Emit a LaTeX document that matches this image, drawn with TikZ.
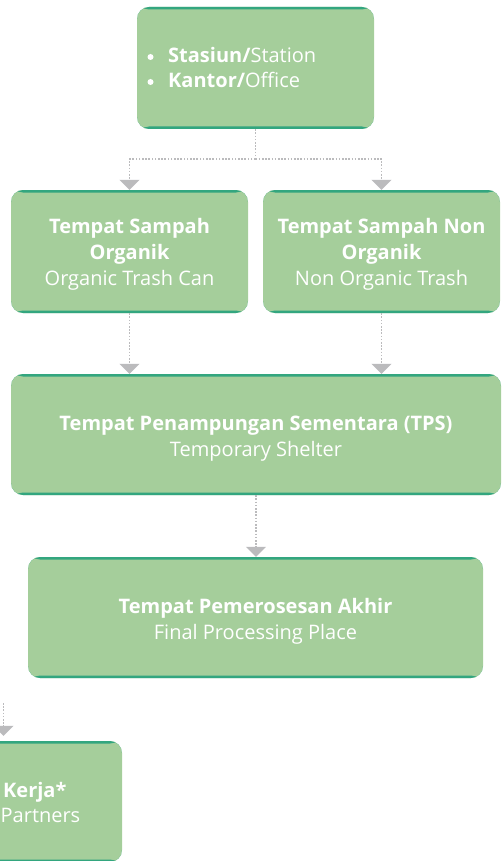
\documentclass[tikz,border=0pt]{standalone}
\usepackage{fontspec}
\setmainfont{Open Sans}
\newcommand{\lt}[1]{#1}
\usetikzlibrary{arrows.meta}
\definecolor{boxfill}{HTML}{A5CE9B}
\definecolor{boxedge}{HTML}{33A67F}
\definecolor{conngray}{HTML}{BBBBBD}
\tikzset{
  x=1pt, y=1pt,
  boxfont/.style={font=\fontsize{20}{26}\selectfont},
  greenbox/.style={
    draw=none, fill=boxfill, rounded corners=12pt,
    minimum height=121pt, inner sep=0pt,
    path picture={
      \fill[boxedge] (path picture bounding box.north west) rectangle ([yshift=-2.5pt]path picture bounding box.north east);
      \fill[boxedge] (path picture bounding box.south west) rectangle ([yshift=2.5pt]path picture bounding box.south east);
    }
  },
  boxtext/.style={text=white, boxfont, inner sep=0pt, align=center},
  plaintext/.style={text=white, boxfont, inner sep=0pt},
  conn/.style={draw=conngray, line width=1.6pt, dash pattern=on 1.6pt off 1.6pt,
    -{Triangle[width=20pt,length=10pt,fill=conngray]}},
  connline/.style={draw=conngray, line width=1.6pt, dash pattern=on 1.6pt off 1.6pt},
}
\begin{document}
\begin{tikzpicture}
\useasboundingbox (0,0) rectangle (501,-861);
\clip (0,0) rectangle (501,-861);
% boxes
\node[greenbox, minimum width=237pt, minimum height=122pt] (top) at (255.5,-68) {};
\node[greenbox, minimum width=237pt, minimum height=123pt] (org) at (129.5,-251.5) {};
\node[greenbox, minimum width=237pt, minimum height=123pt] (nonorg) at (381.5,-251.5) {};
\node[greenbox, minimum width=490pt] (tps) at (256,-434.5) {};
\node[greenbox, minimum width=455pt] (final) at (255.5,-617.5) {};
\node[greenbox, minimum width=237pt] (mitra) at (3.5,-801.5) {};
% box texts
\node[boxtext] (orgt) at ([yshift=-3pt]org.center)
  {\textbf{Tempat Sampah}\\\textbf{Organik}\\\lt{Organic Trash Can}};
\node[boxtext] (nonorgt) at ([yshift=-3pt]nonorg.center)
  {\textbf{Tempat Sampah Non}\\\textbf{Organik}\\\lt{Non Organic Trash}};
\node[boxtext] (tpst) at ([yshift=-4pt]tps.center)
  {\textbf{Tempat Penampungan Sementara (TPS)}\\\lt{Temporary Shelter}};
\node[boxtext] (finalt) at ([yshift=-4pt]final.center)
  {\textbf{Tempat Pemerosesan Akhir}\\\lt{Final Processing Place}};
% top box list
\fill[white] (150.5,-57) circle (3pt);
\fill[white] (150.5,-82) circle (3pt);
\node[plaintext, anchor=base west] (l1) at (168,-63) {\textbf{Stasiun/}\lt{Station}};
\node[plaintext, anchor=base west] (l2) at (168,-88) {\textbf{Kantor/}\lt{Office}};
% visible texts of the cut box
\node[plaintext, anchor=base west] (m1) at (3,-797) {\textbf{Kerja*}};
\node[plaintext, anchor=base west] (m2) at (0.5,-822) {\lt{Partners}};
% connectors
\coordinate (split) at ([yshift=-30pt]top.south);
\draw[connline] (top.south) -- (split);
\draw[conn] (split) -| (org.north);
\draw[conn] (split) -| (nonorg.north);
\draw[conn] (org.south) -- (org.south |- tps.north);
\draw[conn] (nonorg.south) -- (nonorg.south |- tps.north);
\draw[conn] (tps.south) -- (tps.south |- final.north);
\coordinate (mstart) at (3.5,-703);
\draw[conn, shorten >=5pt] (mstart) -- (mitra.north);
\end{tikzpicture}
\end{document}
